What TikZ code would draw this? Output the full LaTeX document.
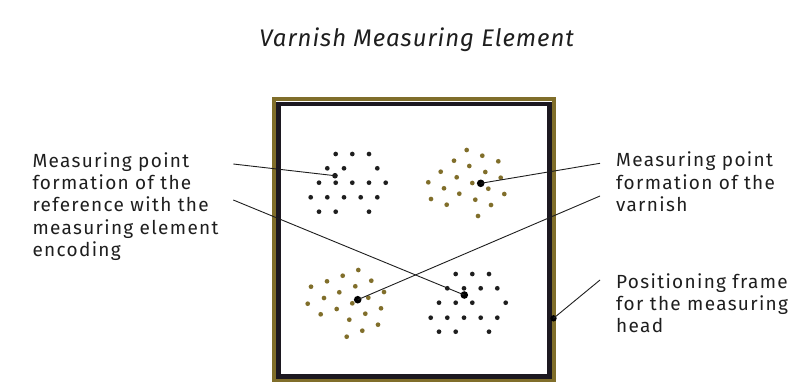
\documentclass[tikz,border=0pt]{standalone}
\usepackage{fontspec}
\setmainfont{Fira Sans}[LetterSpace=7]
\newfontfamily\titlefont{Fira Sans}[LetterSpace=4]
\usetikzlibrary{positioning,calc}
\definecolor{varnishgold}{RGB}{128,110,42}
\definecolor{framedark}{RGB}{28,24,32}
\definecolor{inkgrey}{RGB}{30,30,30}

\begin{document}
\begin{tikzpicture}[
  x=1pt, y=-1pt,
  font=\fontsize{19}{22.3}\selectfont,
  dot/.style={circle, fill=inkgrey, inner sep=0pt, minimum size=4.7pt},
  golddot/.style={dot, fill=varnishgold},
  pindot/.style={circle, fill=black, inner sep=0pt, minimum size=7.6pt},
  callout/.style={align=left, anchor=base west, inner sep=0pt, text=inkgrey},
  leader/.style={draw=inkgrey, line width=0.9pt},
  title/.style={font=\titlefont\fontsize{24}{28}\selectfont\itshape, text=inkgrey, anchor=base, inner sep=0pt}
]
\useasboundingbox (0,0) rectangle (795,381);

\node[title] (head) at (416.7,46.7) {Varnish Measuring Element};

\node[draw=varnishgold, line width=4pt, minimum width=279.8pt, minimum height=281.6pt, inner sep=0pt] (rim) at (413.9,239.8) {};
\node[draw=framedark, fill=white, line width=4.6pt, minimum width=271.2pt, minimum height=272.5pt, inner sep=0pt] (frame) at (413.9,240.05) {};

\foreach \x/\y in {335.7/154, 352.3/154, 369/154,
    327.3/168.3, 344/168.3, 377.3/168.3,
    319/182.7, 335.7/182.7, 352.3/182.7, 369/182.7, 385.7/182.7,
    310.7/197.3, 327.3/197.3, 344/197.3, 360.7/197.3, 377.3/197.3,
    319/211.7, 335.7/211.7, 369/211.7}
  \node[dot] at (\x,\y) {};
\foreach \x/\y in {455.7/274, 472.3/274, 489/274,
    447.3/288.3, 464/288.3, 480.7/288.3, 497.3/288.3,
    439/302.7, 455.7/302.7, 472.3/302.7, 505.7/302.7,
    430.7/317.7, 447.3/317.7, 464/317.7, 480.7/317.7, 497.3/317.7,
    439/331.7, 455.7/331.7, 489/331.7}
  \node[dot] at (\x,\y) {};
\foreach \x/\y in {466.7/150, 482.3/155.7, 454/160.7, 498.3/161.3, 469.3/166,
    440.7/171.7, 485.3/172, 456.7/177.3, 472.3/183, 500.7/177.7,
    428.3/182.3, 444/188.3, 488.3/188.7, 459.3/193.7, 504.3/194,
    431/199, 475.3/199.7, 446.7/204.7, 491/205, 478/216}
  \node[golddot] at (\x,\y) {};
\foreach \x/\y in {358.3/270, 342.7/275.7, 327/281.3, 371.3/280.7, 311/286.7,
    355.3/286.3, 339.3/292.3, 384/292, 324/298, 368.3/297.7,
    307.7/303.7, 352.3/303.3, 336.7/309, 381/308.3, 320.7/314.3,
    365.3/313.7, 349.3/319.7, 378/324.7, 362.3/330.7, 346.7/336.7}
  \node[golddot] at (\x,\y) {};

\node[dot, minimum size=5.6pt] (refa) at (335,175.7) {};
\node[pindot] (refb) at (464.3,295) {};
\node[pindot] (varna) at (480.7,183.3) {};
\node[pindot] (varnb) at (357.7,299.7) {};
\node[pindot, minimum size=6.4pt] (grip) at (553.5,318.3) {};

\node[callout] (reftext) at (32.3,256.5) {Measuring point\\formation of the\\reference with the\\measuring element\\encoding};
\node[callout] (varntext) at (616,211.3) {Measuring point\\formation of the\\varnish};
\node[callout] (frametext) at (616,332.9) {Positioning frame\\for the measuring\\head};

\coordinate (reftip) at (233.3,164);
\coordinate (reftipb) at (233.3,200);
\coordinate (varntip) at (600,163.3);
\coordinate (varntipb) at (600,196);
\coordinate (frametip) at (600,280);

\draw[leader] (reftip) -- (refa.center);
\draw[leader] (reftipb) -- (refb.center);
\draw[leader] (varntip) -- (varna.center);
\draw[leader] (varntipb) -- (varnb.center);
\draw[leader] (frametip) -- (grip.center);
\end{tikzpicture}
\end{document}
